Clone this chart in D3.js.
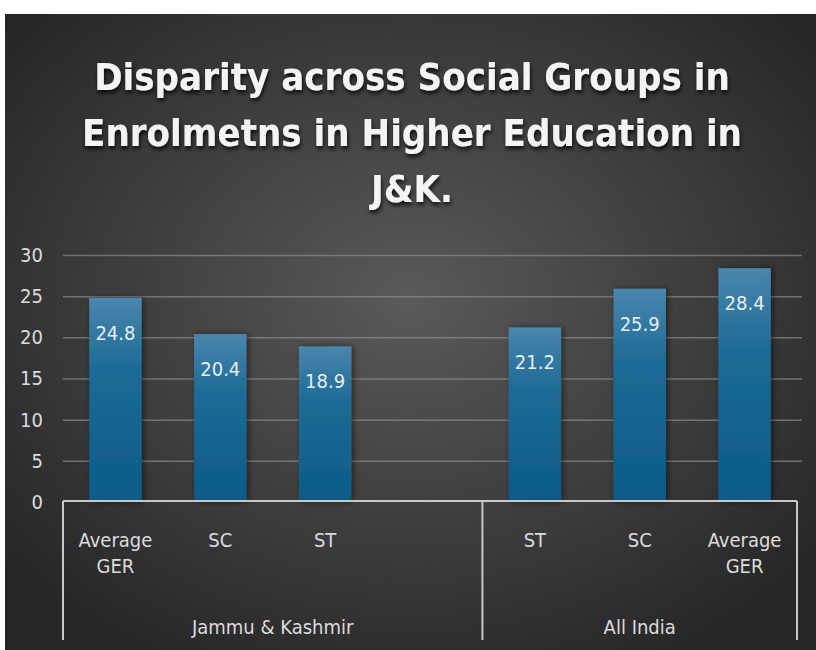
<!DOCTYPE html>
<meta charset="utf-8">
<script src="https://d3js.org/d3.v7.min.js"></script>
<style>
  body { margin: 0; background: #fff; }
  text { font-family: "DejaVu Sans Condensed", "DejaVu Sans", sans-serif; font-stretch: condensed; }
</style>
<div id="chart"></div>
<script>

// chart values
var groups = ["Jammu & Kashmir", "All India"];
var groupSizes = [4, 3];   // J&K has an empty 4th slot
var categories = ["Average GER", "SC", "ST", "", "ST", "SC", "Average GER"];
var values = [24.8, 20.4, 18.9, null, 21.2, 25.9, 28.4];
var yTicks = [0, 5, 10, 15, 20, 25, 30];
var titleLines = ["Disparity across Social Groups in", "Enrolmetns in Higher Education in", "J&K."];

var width = 816, height = 650;
var plotLeft = 63, plotRight = 797, plotTop = 255, plotBottom = 502;

var svg = d3.select("#chart").append("svg")
    .attr("width", width)
    .attr("height", height);

var defs = svg.append("defs");

// background radial gradient
var bg = defs.append("radialGradient").attr("id", "bg")
    .attr("cx", "50%").attr("cy", "45%").attr("r", "65%");
bg.append("stop").attr("offset", "0%").attr("stop-color", "#5a5a5a");
bg.append("stop").attr("offset", "100%").attr("stop-color", "#262626");

// bar gradient
var bg2 = defs.append("linearGradient").attr("id", "bar")
    .attr("x1", 0).attr("y1", 0).attr("x2", 0).attr("y2", 1);
bg2.append("stop").attr("offset", "0%").attr("stop-color", "#4a86ad");
bg2.append("stop").attr("offset", "35%").attr("stop-color", "#1d6b96");
bg2.append("stop").attr("offset", "100%").attr("stop-color", "#0c5b88");

var shadow = defs.append("filter").attr("id", "shadow")
    .attr("x", "-10%").attr("y", "-20%").attr("width", "120%").attr("height", "150%");
shadow.append("feDropShadow").attr("dx", 1).attr("dy", 3).attr("stdDeviation", 2)
    .attr("flood-color", "#000").attr("flood-opacity", 0.8);

var barShadow = defs.append("filter").attr("id", "barShadow")
    .attr("x", "-30%").attr("y", "-10%").attr("width", "160%").attr("height", "120%");
barShadow.append("feDropShadow").attr("dx", 2).attr("dy", 0).attr("stdDeviation", 3)
    .attr("flood-color", "#000").attr("flood-opacity", 0.5);

svg.append("rect")
    .attr("x", 5).attr("y", 14)
    .attr("width", width - 5).attr("height", height - 14)
    .attr("fill", "url(#bg)");

// title
svg.append("g").selectAll("text")
    .data(titleLines)
    .join("text")
    .attr("x", 412)
    .attr("y", function(d, i) { return 90 + i * 56; })
    .attr("text-anchor", "middle")
    .attr("fill", "#f4f4f4")
    .attr("font-size", "38px")
    .attr("font-weight", "bold")
    .attr("filter", "url(#shadow)")
    .text(function(d) { return d; });

// scales
var x = d3.scaleBand()
    .domain(d3.range(categories.length))
    .range([plotLeft, plotRight])
    .paddingInner(0.5)
    .paddingOuter(0.25);

var y = d3.scaleLinear()
    .domain([0, 30])
    .range([plotBottom, plotTop]);

// gridlines
svg.append("g")
    .attr("transform", "translate(" + plotLeft + ",0)")
    .call(d3.axisLeft(y).tickValues(yTicks.slice(1)).tickSize(-(plotRight + 5 - plotLeft)).tickFormat(""))
    .call(function(g) { g.select(".domain").remove(); })
    .selectAll("line")
    .attr("stroke", "#8c8c8c")
    .attr("stroke-opacity", 0.7)
    .attr("stroke-width", 1.5);

// y tick labels
svg.append("g")
    .attr("transform", "translate(" + plotLeft + ",0)")
    .call(d3.axisLeft(y).tickValues(yTicks).tickSize(0).tickPadding(20))
    .call(function(g) { g.select(".domain").remove(); })
    .selectAll("text")
    .attr("fill", "#dcdcdc")
    .attr("font-size", "20px")
    .attr("font-family", null);

// bars
var barData = values.map(function(v, i) { return { i: i, v: v }; })
    .filter(function(d) { return d.v !== null; });

svg.append("g").selectAll("rect")
    .data(barData)
    .join("rect")
    .attr("x", function(d) { return x(d.i); })
    .attr("y", function(d) { return y(d.v); })
    .attr("width", x.bandwidth())
    .attr("height", function(d) { return y(0) - y(d.v); })
    .attr("fill", "url(#bar)")
    .attr("filter", "url(#barShadow)");

// value labels
svg.append("g").selectAll("text")
    .data(barData)
    .join("text")
    .attr("x", function(d) { return x(d.i) + x.bandwidth() / 2; })
    .attr("y", function(d) { return y(d.v) + 42; })
    .attr("text-anchor", "middle")
    .attr("fill", "#e6edf3")
    .attr("font-size", "20px")
    .text(function(d) { return d.v.toFixed(1); });

// category axis
var axisG = svg.append("g").attr("stroke", "#c8c8c8").attr("stroke-width", 2);
axisG.append("line")
    .attr("x1", plotLeft).attr("x2", plotRight)
    .attr("y1", y(0) - 1).attr("y2", y(0) - 1);

var bounds = [0];
groupSizes.forEach(function(n, i) { bounds.push(bounds[i] + n); });
var step = x.step();
var boundX = bounds.map(function(b) { return plotLeft + b * step; });

axisG.selectAll("line.sep")
    .data(boundX)
    .join("line")
    .attr("class", "sep")
    .attr("x1", function(d) { return d; }).attr("x2", function(d) { return d; })
    .attr("y1", y(0) - 1).attr("y2", 640);

// category labels
var catG = svg.append("g").selectAll("text")
    .data(categories)
    .join("text")
    .attr("x", function(d, i) { return x(i) + x.bandwidth() / 2; })
    .attr("y", 547)
    .attr("text-anchor", "middle")
    .attr("fill", "#dcdcdc")
    .attr("font-size", "20px");

catG.each(function(d) {
    var words = d.split(" ");
    var t = d3.select(this);
    words.forEach(function(w, k) {
        t.append("tspan")
            .attr("x", t.attr("x"))
            .attr("dy", k === 0 ? 0 : 26)
            .text(w);
    });
});

// group labels
svg.append("g").selectAll("text")
    .data(groups)
    .join("text")
    .attr("x", function(d, i) { return (boundX[i] + boundX[i + 1]) / 2; })
    .attr("y", 634)
    .attr("text-anchor", "middle")
    .attr("fill", "#dcdcdc")
    .attr("font-size", "20px")
    .text(function(d) { return d; });

</script>
